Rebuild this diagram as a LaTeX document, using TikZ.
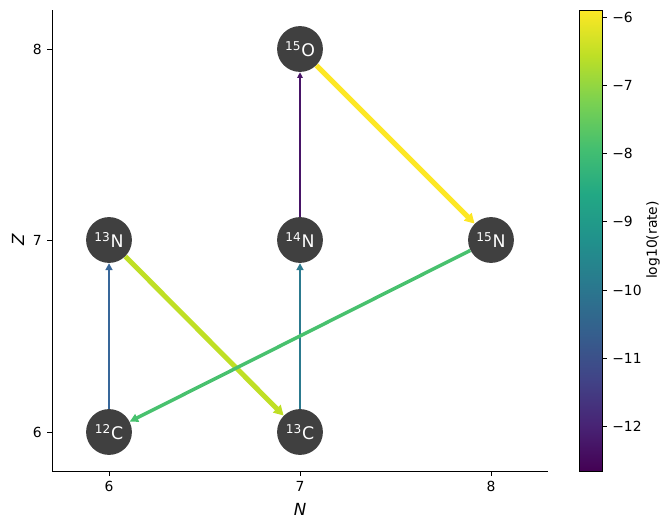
\documentclass[tikz,border=0pt]{standalone}
\usepackage{fontspec}
\setmainfont{DejaVu Sans}
\usetikzlibrary{arrows.meta}

\definecolor{nucgrey}{HTML}{404040}
\definecolor{vir0}{HTML}{440154}
\definecolor{vir1}{HTML}{482475}
\definecolor{vir2}{HTML}{414487}
\definecolor{vir3}{HTML}{355F8D}
\definecolor{vir4}{HTML}{2A788E}
\definecolor{vir5}{HTML}{21918C}
\definecolor{vir6}{HTML}{22A884}
\definecolor{vir7}{HTML}{44BF70}
\definecolor{vir8}{HTML}{7AD151}
\definecolor{vir9}{HTML}{BDDF26}
\definecolor{vir10}{HTML}{FDE725}
% colours of the single rates
\definecolor{rateCpN}{HTML}{38679A}
\definecolor{rateCpNb}{HTML}{2C7A8F}
\definecolor{rateNpO}{HTML}{481467}
\definecolor{rateNdec}{HTML}{BFDF25}
\definecolor{rateNpC}{HTML}{48C16E}
\definecolor{rateOdec}{HTML}{FDE725}

\pgfdeclareverticalshading{viridis}{100bp}{color(0bp)=(vir0); color(25bp)=(vir0);
  color(30bp)=(vir1); color(35bp)=(vir2); color(40bp)=(vir3); color(45bp)=(vir4);
  color(50bp)=(vir5); color(55bp)=(vir6); color(60bp)=(vir7); color(65bp)=(vir8);
  color(70bp)=(vir9); color(75bp)=(vir10); color(100bp)=(vir10)}

\begin{document}
\begin{tikzpicture}[x=0.72pt,y=-0.72pt,
  nuc/.style={circle,fill=nucgrey,minimum size=33pt,inner sep=0pt,text=white,
    font=\fontsize{12.5}{14}\selectfont},
  spine/.style={line width=0.6pt},
  ticklab/.style={font=\fontsize{10}{12}\selectfont,inner sep=3.5pt}]
\useasboundingbox (0,0) rectangle (670,529);

% axes
\draw[spine] (52,10) -- (52,471) -- (548,471);
\foreach \v/\p in {6/109,7/300,8/491}
  \draw[spine] (\p,471) -- ++(0,5) node[below,ticklab] {\v};
\foreach \v/\p in {6/432,7/240,8/49}
  \draw[spine] (52,\p) -- ++(-5,0) node[left,ticklab] {\v};
\node[font=\itshape\fontsize{12}{14}\selectfont] (xlab) at (300,509) {N};
\node[font=\itshape\fontsize{12}{14}\selectfont,rotate=90] (ylab) at (18,240) {Z};

% nuclei
\node[nuc] (c12) at (109,432) {\textsuperscript{12}C};
\node[nuc] (c13) at (300,432) {\textsuperscript{13}C};
\node[nuc] (n13) at (109,240) {\textsuperscript{13}N};
\node[nuc] (n14) at (300,240) {\textsuperscript{14}N};
\node[nuc] (n15) at (491,240) {\textsuperscript{15}N};
\node[nuc] (o15) at (300,49) {\textsuperscript{15}O};

% rates
\draw[rateCpN,line width=1.7pt,-{Triangle[length=5pt,width=5pt]}] (c12) -- (n13);
\draw[rateCpNb,line width=1.7pt,-{Triangle[length=5pt,width=5pt]}] (c13) -- (n14);
\draw[rateNpO,line width=1pt,-{Triangle[length=4pt,width=3.8pt]}] (n14) -- (o15);
\draw[rateNdec,line width=3.6pt,-{Triangle[length=7pt,width=7.5pt]}] (n13) -- (c13);
\draw[rateNpC,line width=2.5pt,-{Triangle[length=6pt,width=6pt]}] (n15) -- (c12);
\draw[rateOdec,line width=3.8pt,-{Triangle[length=7pt,width=7.5pt]}] (o15) -- (n15);

% colorbar
\shade[shading=viridis] (579,10) rectangle (602,471);
\draw[spine] (579,10) rectangle (602,471);
\foreach \v [evaluate=\v as \y using 17+(\v-6)*68.3] in {6,...,12}
  \draw[spine] (602,\y) -- ++(5,0) node[right,ticklab] {−\v};
\node[font=\fontsize{10}{12}\selectfont,rotate=90] (cblab) at (653,240) {log10(rate)};
\end{tikzpicture}
\end{document}
